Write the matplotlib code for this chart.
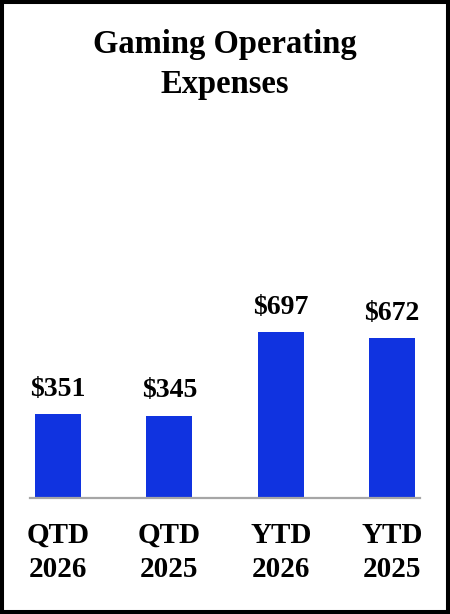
import matplotlib
matplotlib.use("Agg")
import matplotlib.pyplot as plt
from matplotlib.patches import Rectangle

categories = ["QTD\n2026", "QTD\n2025", "YTD\n2026", "YTD\n2025"]
values = [351, 345, 697, 672]
labels = ["$351", "$345", "$697", "$672"]
title = "Gaming Operating\nExpenses"

W, H = 450, 614
fig = plt.figure(figsize=(W / 100, H / 100), dpi=100)
fig.patch.set_facecolor("white")

# axes: left 30px, right 420px, bottom at y=498 from top, top at y=150
left, right, bottom, top = 30, 420, 498, 150
ax = fig.add_axes([left / W, 1 - bottom / H, (right - left) / W, (bottom - top) / H])

font = "Liberation Serif"
xs = list(range(len(values)))
ax.bar(xs, values, width=0.41, color="#1033E0", zorder=2)
ax.set_xlim(-0.25, 3.25)
ax.set_ylim(0, (bottom - top) / 0.238)

for x, v, l in zip(xs, values, labels):
    ax.annotate(l, (x, v), xytext=(0, 9), textcoords="offset points",
                ha="center", va="bottom", fontsize=20, fontweight="bold",
                family=font, color="black")

for s in ["top", "right", "left"]:
    ax.spines[s].set_visible(False)
ax.spines["bottom"].set_color("#A6A6A6")
ax.spines["bottom"].set_linewidth(1.6)
ax.set_yticks([])
ax.set_xticks(xs)
ax.set_xticklabels(categories, fontsize=21, fontweight="bold", family=font,
                   linespacing=1.33)
ax.tick_params(axis="x", length=0, pad=17)

fig.text(0.5, 1 - 64.5 / H, title, ha="center", va="center", fontsize=23.5,
         fontweight="bold", family=font, linespacing=1.36)

fig.add_artist(Rectangle((0, 0), 1, 1, transform=fig.transFigure, fill=False,
                         edgecolor="black", linewidth=5.8))

fig.savefig("out.png", dpi=100, facecolor="white")
